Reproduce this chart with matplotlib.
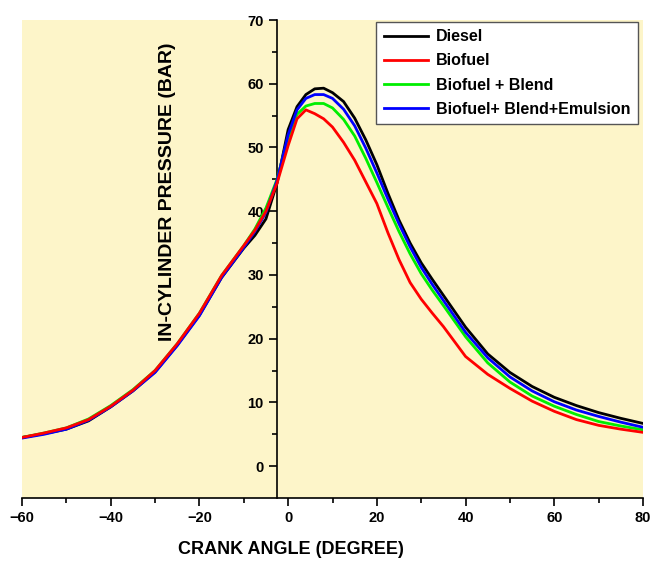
import numpy as np
import matplotlib.pyplot as plt
from matplotlib.ticker import MultipleLocator

plt.rcParams['font.family'] = ['Liberation Sans', 'DejaVu Sans']
plt.rcParams['font.weight'] = 'bold'

# crank angle (degree)
angle = [-60, -55, -50, -45, -40, -35, -30, -25, -20, -15, -10, -7.5, -5, -2.5,
         0, 2, 4, 6, 8, 10, 12.5, 15, 17.5, 20, 22.5, 25, 27.5, 30, 32.5, 35,
         40, 45, 50, 55, 60, 65, 70, 75, 80]

# in-cylinder pressure (bar)
diesel = [4.5, 5.1, 5.8, 7.1, 9.3, 11.8, 14.8, 19.0, 23.7, 29.6, 34.2, 36.2, 38.8, 44.4,
          52.8, 56.4, 58.3, 59.2, 59.3, 58.6, 57.2, 54.6, 51.2, 47.3, 42.8, 38.6, 35.0, 31.9, 29.3, 26.8,
          21.8, 17.6, 14.7, 12.5, 10.8, 9.5, 8.4, 7.5, 6.7]
biofuel = [4.5, 5.2, 6.0, 7.3, 9.4, 11.9, 15.0, 19.2, 24.0, 29.9, 34.6, 37.0, 40.0, 44.4,
           50.3, 54.5, 55.9, 55.3, 54.5, 53.2, 50.8, 48.0, 44.6, 41.2, 36.6, 32.4, 28.8, 26.2, 24.0, 21.9,
           17.2, 14.4, 12.2, 10.2, 8.6, 7.3, 6.4, 5.8, 5.3]
blend = [4.5, 5.2, 6.0, 7.4, 9.5, 12.0, 15.0, 19.2, 24.0, 29.9, 34.6, 37.2, 40.5, 45.0,
         51.5, 55.2, 56.5, 56.9, 56.9, 56.2, 54.4, 51.8, 48.3, 44.5, 40.6, 36.8, 33.3, 30.2, 27.6, 25.2,
         20.3, 16.2, 13.2, 11.0, 9.4, 8.1, 7.0, 6.3, 5.7]
emulsion = [4.4, 5.0, 5.8, 7.2, 9.3, 11.8, 14.7, 18.9, 23.6, 29.6, 34.3, 36.8, 39.8, 44.8,
            52.0, 55.9, 57.7, 58.3, 58.3, 57.7, 56.0, 53.4, 49.9, 46.0, 41.9, 38.0, 34.4, 31.2, 28.5, 26.0,
            21.0, 17.0, 14.0, 11.8, 10.1, 8.8, 7.8, 6.9, 6.1]

labels = ['Diesel', 'Biofuel', 'Biofuel + Blend', 'Biofuel+ Blend+Emulsion']

fig = plt.figure(figsize=(6.51, 5.61), dpi=100)
ax = fig.add_axes([22/651, 63/561, 621/651, 478/561])
ax.set_facecolor('#fdf5c9')

ax.plot(angle, diesel, color='black', lw=2, label=labels[0], zorder=3)
ax.plot(angle, biofuel, color='#ff0000', lw=2, label=labels[1], zorder=6)
ax.plot(angle, blend, color='#00ee00', lw=2, label=labels[2], zorder=4)
ax.plot(angle, emulsion, color='#0000ff', lw=2, label=labels[3], zorder=5)

ax.set_xlim(-60, 80)
ax.set_ylim(-5, 70)
ax.spines['top'].set_visible(False)
ax.spines['right'].set_visible(False)
ax.spines['left'].set_position(('data', -2.5))
for s in ('left', 'bottom'):
    ax.spines[s].set_linewidth(1.2)

ax.xaxis.set_major_locator(MultipleLocator(20))
ax.xaxis.set_minor_locator(MultipleLocator(10))
ax.set_yticks(np.arange(0, 71, 10))
ax.set_yticks(np.arange(5, 71, 10), minor=True)
ax.tick_params(which='major', direction='out', length=6, width=1.2, labelsize=10.5)
ax.tick_params(which='minor', direction='out', length=3.5, width=1.2)
for t in ax.get_xticklabels() + ax.get_yticklabels():
    t.set_fontweight('bold')

fig.text(167/651, 1 - 192/561, 'IN-CYLINDER PRESSURE (BAR)', rotation=90,
         ha='center', va='center', fontsize=14, fontweight='bold')
fig.text(291/651, 1 - 550/561, 'CRANK ANGLE (DEGREE)',
         ha='center', va='center', fontsize=13, fontweight='bold')

leg = ax.legend(loc='upper right', bbox_to_anchor=(638/651, 1 - 22/561),
                bbox_transform=fig.transFigure, borderaxespad=0, fancybox=False,
                framealpha=1, edgecolor='#555555', handlelength=2.8,
                prop={'size': 11.5, 'weight': 'bold'}, labelspacing=0.58,
                borderpad=0.45, handletextpad=0.5)
leg.get_frame().set_linewidth(1)

fig.savefig('out.png', dpi=100)
